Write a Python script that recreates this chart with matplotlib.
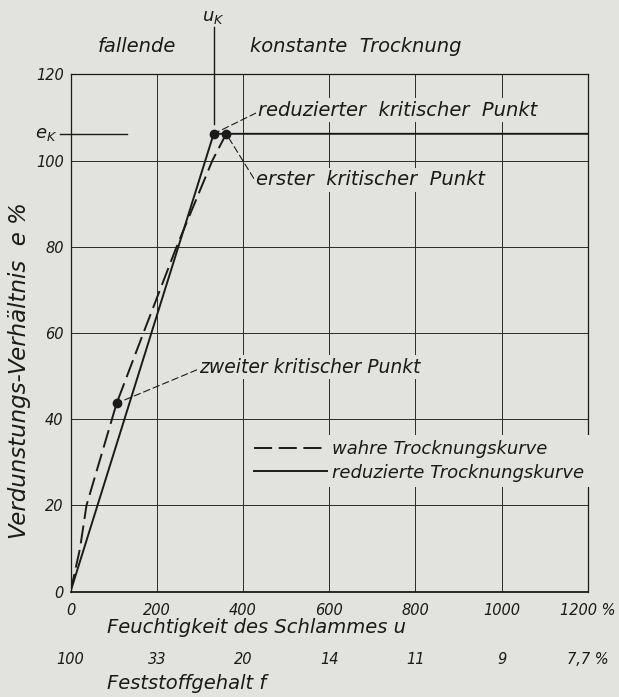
import matplotlib.pyplot as plt
from matplotlib.lines import Line2D
from matplotlib import font_manager

# axis ticks
u_ticks = [0, 200, 400, 600, 800, 1000, 1200]
u_labels = ['0', '200', '400', '600', '800', '1000', '1200 %']
f_labels = ['100', '33', '20', '14', '11', '9', '7,7 %']
e_ticks = [0, 20, 40, 60, 80, 100, 120]

# reduzierte Trocknungskurve (solid)
u_reduced = [0, 332, 1200]
e_reduced = [0, 106.2, 106.2]

# wahre Trocknungskurve (dashed)
u_true = [0, 22, 37, 107, 169, 246, 329, 361]
e_true = [0, 10, 20, 43.7, 60, 80, 100, 106.2]

# critical points: reduzierter, erster, zweiter
crit_u = [332, 361, 107]
crit_e = [106.2, 106.2, 43.7]
u_k = 332
e_k = 106.2

bg = '#e2e2df'
ink = '#1a1a1a'
plt.rcParams['font.family'] = ['DejaVu Sans']
plt.rcParams['font.style'] = 'italic'
plt.rcParams['font.weight'] = 'light'
plt.rcParams['mathtext.fontset'] = 'dejavusans'
print(sorted({f.name + ' ' + str(f.weight) + ' ' + f.style + ' ' + f.stretch
              for f in font_manager.fontManager.ttflist if 'DejaVu' in f.name}))

fig = plt.figure(figsize=(6.19, 6.97), dpi=100, facecolor=bg)
ax = fig.add_axes([0.1139, 0.1511, 0.836, 0.7423])
ax.set_facecolor(bg)
ax.set_xlim(0, 1200)
ax.set_ylim(0, 120)
ax.set_xticks(u_ticks)
ax.set_xticklabels(u_labels, fontsize=10.5, style='italic')
ax.set_yticks(e_ticks)
ax.set_yticklabels([str(v) for v in e_ticks], fontsize=10.5, style='italic')
ax.tick_params(length=0, colors=ink)
ax.tick_params(axis='x', pad=8)
ax.tick_params(axis='y', pad=5)
ax.grid(True, color='#2a2a2a', lw=0.7)
for s in ax.spines.values():
    s.set_color(ink)
    s.set_linewidth(0.9)
ax.spines['bottom'].set_linewidth(1.3)

dash_true = (0, (9.3, 3.4))
dash_lead = (0, (6, 3.2))

ax.plot(u_true, e_true, color=ink, lw=1.4, ls=dash_true, zorder=3)
ax.plot(u_reduced, e_reduced, color=ink, lw=1.4, zorder=4)
ax.plot(crit_u, crit_e, 'o', color=ink, ms=6, zorder=5)

# u_K and e_K markers
ax.plot([u_k, u_k], [108.5, 131], color=ink, lw=1.0, clip_on=False)
ax.plot([-25, 130], [e_k, e_k], color=ink, lw=1.0, clip_on=False)
ax.text(-30, e_k, r'$e_K$', ha='right', va='center', fontsize=13, color=ink)
fig.text(0.344, 0.975, r'$u_K$', ha='center', va='center', fontsize=13, color=ink)

box = dict(facecolor=bg, edgecolor='none', pad=1.5)
arrow = dict(arrowstyle='-', ls=dash_lead, lw=0.8, color=ink,
             shrinkA=0, shrinkB=0, relpos=(0, 0.4))
names = ['reduzierter  kritischer  Punkt', 'erster  kritischer  Punkt',
         'zweiter kritischer Punkt']
sizes = [14, 14, 13.5]
text_pos = [(435, 111.7), (430, 95.5), (298, 52.1)]
for name, x, y, pos, fs in zip(names, crit_u, crit_e, text_pos, sizes):
    ax.annotate(name, xy=(x, y), xytext=pos, textcoords='data',
                ha='left', va='center', fontsize=fs, color=ink,
                bbox=box, arrowprops=arrow, zorder=6)

handles = [Line2D([], [], color=ink, lw=1.4, ls=dash_true),
           Line2D([], [], color=ink, lw=1.4)]
leg = ax.legend(handles, ['wahre Trocknungskurve', 'reduzierte Trocknungskurve'],
                loc='upper left', bbox_to_anchor=(0.345, 0.303),
                frameon=True, facecolor=bg, edgecolor='none', framealpha=1,
                fontsize=13, handlelength=4.0, handletextpad=0.3,
                labelspacing=0.3, borderpad=0.3, borderaxespad=0)
leg.get_frame().set_boxstyle('square', pad=0)
for t in leg.get_texts():
    t.set_color(ink)

# second scale: Feststoffgehalt
for u, lab in zip(u_ticks, f_labels):
    ax.text(u, -0.132, lab, transform=ax.get_xaxis_transform(),
            ha='center', va='center', fontsize=10.5, color=ink)

fig.text(0.221, 0.934, 'fallende', ha='center', va='center', fontsize=14, color=ink)
fig.text(0.575, 0.934, 'konstante  Trocknung', ha='center', va='center', fontsize=14, color=ink)
fig.text(0.032, 0.469, 'Verdunstungs-Verhältnis  e %', rotation=90,
         ha='center', va='center', fontsize=16.5, color=ink)
fig.text(0.173, 0.1004, 'Feuchtigkeit des Schlammes u', ha='left', va='center',
         fontsize=14, color=ink)
fig.text(0.173, 0.0187, 'Feststoffgehalt f', ha='left', va='center',
         fontsize=14, color=ink)

fig.savefig('out.png', dpi=100, facecolor=bg)
